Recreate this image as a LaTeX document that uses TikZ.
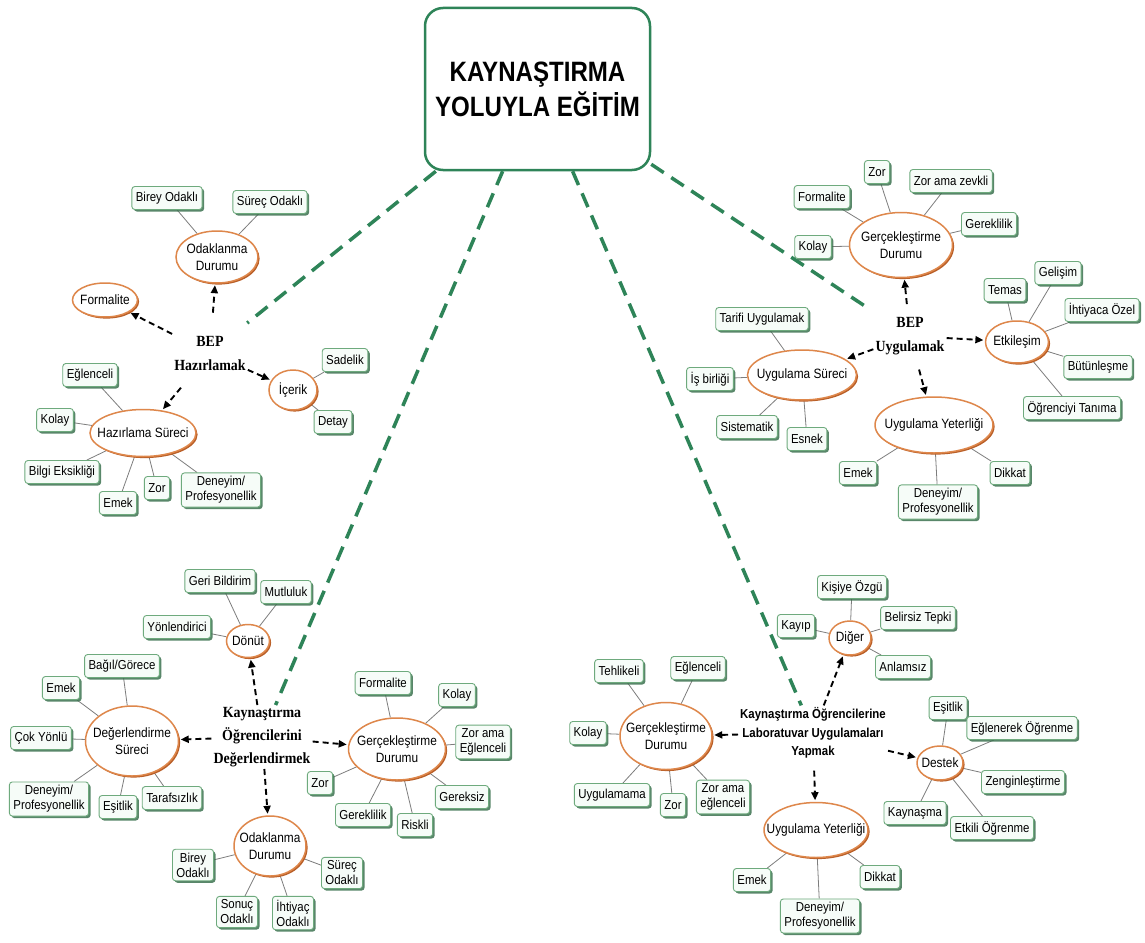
\documentclass[tikz,border=0pt]{standalone}
\usepackage{fontspec}
\setmainfont{Liberation Sans}
\newfontfamily\serifb{Liberation Serif}[FakeStretch=0.9]
\newfontfamily\titlef{Liberation Sans}[FakeStretch=0.86]
\newfontfamily\condf{Liberation Sans}[FakeStretch=0.88]
\usetikzlibrary{shapes.geometric,arrows.meta,shadows,backgrounds}
\definecolor{mapgreen}{RGB}{46,132,88}
\definecolor{boxline}{RGB}{110,170,125}
\definecolor{boxfill}{RGB}{246,252,248}
\definecolor{boxshadow}{RGB}{60,115,80}
\definecolor{ellline}{RGB}{222,135,75}
\definecolor{ellshadow}{RGB}{185,95,40}
\definecolor{linkgray}{RGB}{125,125,125}
\begin{document}
\begin{tikzpicture}[x=1pt,y=-1pt,
  leaf/.style={draw=boxline, line width=0.9pt, fill=boxfill, rounded corners=3pt,
    font=\condf\fontsize{13}{15}\selectfont, inner xsep=4pt, inner ysep=3.5pt,
    minimum height=23pt, align=center,
    drop shadow={shadow xshift=2pt, shadow yshift=-2pt, fill=boxshadow, opacity=0.85}},
  topic/.style={ellipse, draw=ellline, line width=1.5pt, fill=white, inner sep=-40pt,
    align=center, font=\condf\fontsize{13.5}{17}\selectfont,
    drop shadow={shadow xshift=1.6pt, shadow yshift=-1.6pt, fill=ellshadow, opacity=1}},
  hubserif/.style={font=\serifb\bfseries\fontsize{15.5}{24}\selectfont, align=center, inner sep=2pt},
  hubsans/.style={font=\condf\bfseries\fontsize{13}{18.5}\selectfont, align=center, inner sep=2pt},
  link/.style={draw=linkgray, line width=0.8pt},
  arr/.style={draw=black, line width=1.9pt, dash pattern=on 6pt off 4pt,
    -{Triangle[length=8pt,width=7pt]}, shorten >=1.5pt},
  bigdash/.style={draw=mapgreen, line width=3.5pt, dash pattern=on 15pt off 9pt}
]
% title
\node[draw=mapgreen, line width=2.5pt, rounded corners=18pt, minimum width=225pt,
  minimum height=162pt, fill=white, align=center,
  font=\titlef\bfseries\fontsize{28}{35}\selectfont] (title) at (537.5,89)
  {KAYNAŞTIRMA\\YOLUYLA EĞİTİM};

% hubs
\node[hubserif] (bepH) at (210,353) {BEP\\Hazırlamak};
\node[hubserif] (bepU) at (910,336) {BEP\\Uygulamak};
\node[hubserif, font=\serifb\bfseries\fontsize{15.5}{23}\selectfont] (kod) at (262,737) {Kaynaştırma\\Öğrencilerini\\Değerlendirmek};
\node[hubsans] (lab) at (813,733) {Kaynaştırma Öğrencilerine\\Laboratuvar Uygulamaları\\Yapmak};

% group 1 topics
\node[topic, minimum width=82pt, minimum height=52pt] (odak1) at (217,257) {Odaklanma\\Durumu};
\node[topic, minimum width=65pt, minimum height=34pt] (form1) at (105,300) {Formalite};
\node[topic, minimum width=48pt, minimum height=40pt] (icerik) at (293,390) {İçerik};
\node[topic, minimum width=106pt, minimum height=47pt] (hazs) at (143,433) {Hazırlama Süreci};
% group 2 topics
\node[topic, minimum width=103pt, minimum height=65pt] (gerc2) at (901,245) {Gerçekleştirme\\Durumu};
\node[topic, minimum width=63pt, minimum height=42pt] (etk) at (1017,342) {Etkileşim};
\node[topic, minimum width=109pt, minimum height=50pt] (uygs) at (802,375) {Uygulama Süreci};
\node[topic, minimum width=118pt, minimum height=56pt] (uygy2) at (934,425) {Uygulama Yeterliği};
% group 3 topics
\node[topic, minimum width=43pt, minimum height=33pt] (donut) at (248,641) {Dönüt};
\node[topic, minimum width=93pt, minimum height=70pt] (degs) at (132,741) {Değerlendirme\\Süreci};
\node[topic, minimum width=97pt, minimum height=62pt] (gerc3) at (397,749) {Gerçekleştirme\\Durumu};
\node[topic, minimum width=72pt, minimum height=60pt] (odak3) at (270,846) {Odaklanma\\Durumu};
% group 4 topics
\node[topic, minimum width=42pt, minimum height=34pt] (diger) at (850,638) {Diğer};
\node[topic, minimum width=92pt, minimum height=67pt] (gerc4) at (666,736) {Gerçekleştirme\\Durumu};
\node[topic, minimum width=46pt, minimum height=34pt] (destek) at (940,763) {Destek};
\node[topic, minimum width=104pt, minimum height=55pt] (uygy4) at (816,830) {Uygulama Yeterliği};

% group 1 leaves
\node[leaf] (hBirey) at (167,198) {Birey Odaklı};
\node[leaf] (hSurec) at (270,202) {Süreç Odaklı};
\node[leaf] (hSade) at (345,360) {Sadelik};
\node[leaf] (hDetay) at (333,422) {Detay};
\node[leaf] (hEglen) at (90,375) {Eğlenceli};
\node[leaf] (hKolay) at (55,420) {Kolay};
\node[leaf] (hBilgi) at (62,472) {Bilgi Eksikliği};
\node[leaf] (hEmek) at (118,503) {Emek};
\node[leaf] (hZor) at (157,488) {Zor};
\node[leaf] (hDeney) at (221,490) {Deneyim/\\Profesyonellik};
% group 2 leaves
\node[leaf] (uForm) at (822,197) {Formalite};
\node[leaf] (uZor) at (877,172) {Zor};
\node[leaf] (uZaz) at (951,181) {Zor ama zevkli};
\node[leaf] (uGerek) at (989,224) {Gereklilik};
\node[leaf] (uKolay) at (813,247) {Kolay};
\node[leaf] (uTemas) at (1005,290) {Temas};
\node[leaf] (uGelis) at (1058,273) {Gelişim};
\node[leaf] (uIhti) at (1102,310) {İhtiyaca Özel};
\node[leaf] (uButun) at (1098,367) {Bütünleşme};
\node[leaf] (uOgr) at (1072,408) {Öğrenciyi Tanıma};
\node[leaf] (uTarif) at (762,319) {Tarifi Uygulamak};
\node[leaf] (uIs) at (710,379) {İş birliği};
\node[leaf] (uSist) at (747,427) {Sistematik};
\node[leaf] (uEsnek) at (807,439) {Esnek};
\node[leaf] (uEmek) at (858,473) {Emek};
\node[leaf] (uDeney) at (938,502) {Deneyim/\\Profesyonellik};
\node[leaf] (uDikkat) at (1010,473) {Dikkat};
% group 3 leaves
\node[leaf] (dGeri) at (220,581) {Geri Bildirim};
\node[leaf] (dMutlu) at (286,592) {Mutluluk};
\node[leaf] (dYon) at (177,627) {Yönlendirici};
\node[leaf] (dBagil) at (122,666) {Bağıl/Görece};
\node[leaf] (dEmek) at (61,688) {Emek};
\node[leaf] (dCok) at (41,738) {Çok Yönlü};
\node[leaf] (dDeney) at (49,799) {Deneyim/\\Profesyonellik};
\node[leaf] (dEsit) at (118,807) {Eşitlik};
\node[leaf] (dTaraf) at (172,798) {Tarafsızlık};
\node[leaf] (dForm) at (383,683) {Formalite};
\node[leaf] (dKolay) at (457,695) {Kolay};
\node[leaf] (dZae) at (483,742) {Zor ama\\Eğlenceli};
\node[leaf] (dGereksiz) at (462,797) {Gereksiz};
\node[leaf] (dRisk) at (415,825) {Riskli};
\node[leaf] (dGerek) at (363,815) {Gereklilik};
\node[leaf] (dZor) at (320,783) {Zor};
\node[leaf] (dBirey) at (193,865) {Birey\\Odaklı};
\node[leaf] (dSurec) at (342,873) {Süreç\\Odaklı};
\node[leaf] (dSonuc) at (237,912) {Sonuç\\Odaklı};
\node[leaf] (dIhti) at (293,913) {İhtiyaç\\Odaklı};
% group 4 leaves
\node[leaf] (lKisi) at (852,587) {Kişiye Özgü};
\node[leaf] (lKayip) at (796,626) {Kayıp};
\node[leaf] (lBelir) at (918,618) {Belirsiz Tepki};
\node[leaf] (lAnlam) at (903,667) {Anlamsız};
\node[leaf] (lTehl) at (619,671) {Tehlikeli};
\node[leaf] (lEglen) at (698,668) {Eğlenceli};
\node[leaf] (lKolay) at (588,733) {Kolay};
\node[leaf] (lUygma) at (612,795) {Uygulamama};
\node[leaf] (lZor) at (673,805) {Zor};
\node[leaf] (lZae) at (723,797) {Zor ama\\eğlenceli};
\node[leaf] (lEsit) at (948,708) {Eşitlik};
\node[leaf] (lEgOg) at (1022,728) {Eğlenerek Öğrenme};
\node[leaf] (lZeng) at (1023,782) {Zenginleştirme};
\node[leaf] (lKayn) at (915,813) {Kaynaşma};
\node[leaf] (lEtk) at (992,828) {Etkili Öğrenme};
\node[leaf] (lEmek) at (752,880) {Emek};
\node[leaf] (lDikkat) at (880,877) {Dikkat};
\node[leaf] (lDeney) at (820,916) {Deneyim/\\Profesyonellik};

\begin{pgfonlayer}{background}
  \fill[white] (0,0) rectangle (1145,942);
  \draw[bigdash, shorten >=17pt] (title) -- (bepH);
  \draw[bigdash] (title) -- (kod);
  \draw[bigdash] (title) -- (lab);
  \draw[bigdash, shorten >=11pt] (title) -- (bepU);
  \foreach \a/\b in {odak1/hBirey, odak1/hSurec, icerik/hSade, icerik/hDetay,
    hazs/hEglen, hazs/hKolay, hazs/hBilgi, hazs/hEmek, hazs/hZor, hazs/hDeney,
    gerc2/uForm, gerc2/uZor, gerc2/uZaz, gerc2/uGerek, gerc2/uKolay,
    etk/uTemas, etk/uGelis, etk/uIhti, etk/uButun, etk/uOgr,
    uygs/uTarif, uygs/uIs, uygs/uSist, uygs/uEsnek,
    uygy2/uEmek, uygy2/uDeney, uygy2/uDikkat,
    donut/dGeri, donut/dMutlu, donut/dYon,
    degs/dBagil, degs/dEmek, degs/dCok, degs/dDeney, degs/dEsit, degs/dTaraf,
    gerc3/dForm, gerc3/dKolay, gerc3/dZae, gerc3/dGereksiz, gerc3/dRisk, gerc3/dGerek, gerc3/dZor,
    odak3/dBirey, odak3/dSurec, odak3/dSonuc, odak3/dIhti,
    diger/lKisi, diger/lKayip, diger/lBelir, diger/lAnlam,
    gerc4/lTehl, gerc4/lEglen, gerc4/lKolay, gerc4/lUygma, gerc4/lZor, gerc4/lZae,
    destek/lEsit, destek/lEgOg, destek/lZeng, destek/lKayn, destek/lEtk,
    uygy4/lEmek, uygy4/lDikkat, uygy4/lDeney}
    \draw[link] (\a) -- (\b);
\end{pgfonlayer}

% dashed arrows
\draw[arr, shorten <=21pt] (bepH) -- (odak1);
\draw[arr] (bepH) -- (form1);
\draw[arr] (bepH) -- (icerik);
\draw[arr, shorten <=20pt] (bepH) -- (hazs);
\draw[arr, shorten <=11pt] (bepU) -- (gerc2);
\draw[arr] (bepU) -- (uygs);
\draw[arr] (bepU) -- (etk);
\draw[arr, shorten <=13pt] (bepU) -- (uygy2);
\draw[arr] (kod) -- (donut);
\draw[arr] (kod) -- (degs);
\draw[arr] (kod) -- (gerc3);
\draw[arr] (kod) -- (odak3);
\draw[arr] (lab) -- (diger);
\draw[arr] (lab) -- (gerc4);
\draw[arr] (lab) -- (destek);
\draw[arr, shorten <=10pt] (lab) -- (uygy4);

\useasboundingbox (0,0) rectangle (1145,942);
\end{tikzpicture}
\end{document}
